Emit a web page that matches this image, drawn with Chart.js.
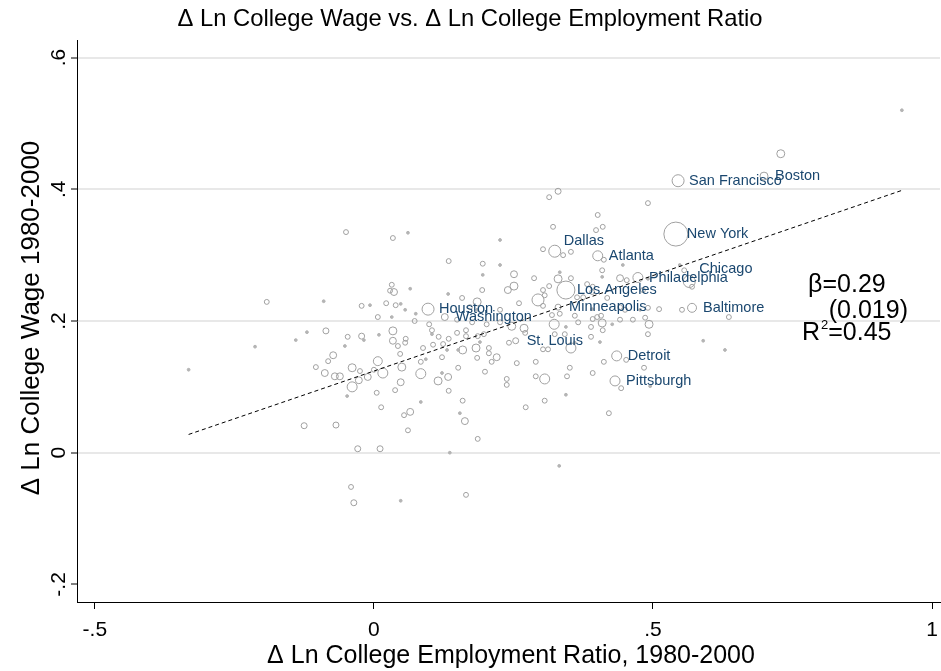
<!DOCTYPE html>
<html>
<head>
<meta charset="utf-8">
<script src="https://cdn.jsdelivr.net/npm/chart.js@4/dist/chart.umd.min.js"></script>
<style>html,body{margin:0;padding:0;background:#fff}canvas{display:block}</style>
</head>
<body>
<canvas id="c" width="941" height="671"></canvas>
<script>
// ---------- data ----------
const titleText = 'Δ Ln College Wage vs. Δ Ln College Employment Ratio';
const xTitle = 'Δ Ln College Employment Ratio, 1980-2000';
const yTitle = 'Δ Ln College Wage 1980-2000';
const xTicks = [-0.5, 0, 0.5, 1];
const xTickLabels = ['-.5', '0', '.5', '1'];
const yTicks = [-0.2, 0, 0.2, 0.4, 0.6];
const yTickLabels = ['-.2', '0', '.2', '.4', '.6'];

const cityNames = ['New York','San Francisco','Boston','Dallas','Atlanta','Chicago','Philadelphia','Los Angeles','Minneapolis','Baltimore','Houston','Washington','St. Louis','Detroit','Pittsburgh'];
const cityX = [0.541,0.545,0.699,0.324,0.401,0.565,0.473,0.344,0.330,0.570,0.097,0.127,0.254,0.435,0.432];
const cityY = [0.332,0.413,0.420,0.306,0.299,0.260,0.266,0.247,0.221,0.220,0.218,0.206,0.170,0.147,0.109];
const cityW = [144,36,16,36,25,36,25,81,9,20,36,12,9,25,25];

const otherX = [-0.332,-0.213,-0.192,-0.140,-0.120,-0.090,-0.086,-0.125,-0.068,-0.050,-0.052,-0.047,-0.073,-0.082,-0.104,-0.088,-0.070,-0.061,-0.039,-0.025,-0.039,-0.027,-0.011,-0.048,-0.022,-0.007,-0.022,-0.018,-0.029,0.011,-0.041,-0.036,0.007,0.000,0.005,0.007,0.009,
0.034,0.061,0.032,0.036,0.029,0.065,0.022,0.039,0.048,0.056,0.075,0.032,0.073,0.099,0.034,0.034,0.043,0.057,0.056,0.047,0.016,0.050,0.084,0.093,0.084,0.048,0.038,0.115,0.133,0.122,0.134,0.084,0.013,0.054,0.065,0.061,0.136,0.048,0.165,0.159,0.154,0.163,0.186,0.134,0.195,0.195,0.133,0.158,0.185,0.194,0.185,0.172,0.104,0.116,0.134,0.124,0.149,0.165,0.186,0.197,0.159,0.183,0.190,0.151,0.131,0.122,0.151,0.149,0.176,0.088,0.106,0.104,0.165,0.199,0.185,0.206,0.206,
0.226,0.226,0.251,0.251,0.240,0.287,0.260,0.226,0.202,0.226,0.247,0.269,0.271,0.242,0.220,0.211,0.256,0.290,0.238,0.238,0.290,0.306,0.272,0.306,0.332,0.314,0.330,0.321,0.303,0.339,0.353,0.294,0.306,0.303,0.314,0.303,0.319,0.333,0.323,0.324,0.303,0.312,0.330,0.333,
0.353,0.382,0.392,0.391,0.364,0.375,0.360,0.391,0.400,0.407,0.392,0.344,0.366,0.389,0.409,0.427,0.410,0.342,0.360,0.389,0.405,0.353,0.452,0.412,0.346,0.351,0.392,0.344,0.443,0.421,0.495,0.484,0.401,0.410,0.398,0.412,0.409,0.446,0.409,0.441,0.453,0.491,0.491,0.418,0.441,0.450,0.441,0.464,0.477,0.491,0.511,0.486,0.493,0.491,0.482,
0.548,0.556,0.570,0.552,0.636,0.590,0.629,0.729,0.946];
const otherY = [0.126,0.161,0.229,0.171,0.183,0.230,0.185,0.041,0.042,0.335,0.162,0.176,0.148,0.139,0.130,0.121,0.116,0.116,0.129,0.124,0.100,0.110,0.115,0.086,0.223,0.224,0.177,0.171,0.006,0.006,-0.052,-0.076,0.139,0.126,0.091,0.206,0.179,
0.326,0.334,0.255,0.244,0.246,0.249,0.227,0.224,0.226,0.217,0.211,0.206,0.200,0.195,0.185,0.170,0.162,0.173,0.167,0.150,0.121,0.130,0.138,0.142,0.120,0.107,0.095,0.109,0.115,0.121,0.094,0.077,0.069,0.057,0.062,0.034,0.000,-0.073,-0.064,0.079,0.060,0.048,0.021,0.291,0.287,0.270,0.241,0.235,0.229,0.247,0.217,0.221,0.186,0.176,0.173,0.165,0.182,0.177,0.177,0.180,0.156,0.159,0.168,0.156,0.156,0.145,0.129,0.202,0.198,0.159,0.164,0.180,0.186,0.123,0.144,0.159,0.151,
0.323,0.285,0.271,0.253,0.247,0.265,0.227,0.217,0.195,0.198,0.192,0.189,0.182,0.167,0.145,0.138,0.136,0.138,0.112,0.103,0.116,0.112,0.069,0.079,-0.020,0.388,0.397,0.343,0.309,0.300,0.305,0.232,0.239,0.223,0.253,0.247,0.209,0.211,0.195,0.180,0.157,0.157,0.264,0.274,
0.265,0.256,0.252,0.244,0.236,0.236,0.208,0.218,0.206,0.208,0.203,0.191,0.198,0.191,0.197,0.195,0.186,0.180,0.167,0.176,0.168,0.159,0.141,0.138,0.116,0.129,0.121,0.088,0.098,0.060,0.101,0.129,0.361,0.343,0.338,0.293,0.277,0.285,0.267,0.265,0.262,0.264,0.379,0.235,0.221,0.217,0.202,0.202,0.217,0.220,0.218,0.205,0.195,0.180,0.247,
0.285,0.277,0.252,0.217,0.206,0.170,0.156,0.454,0.520];
const otherW = [2,2,6,2,2,2,9,9,9,6,2,6,12,6,6,12,12,12,16,6,25,12,12,2,6,2,9,2,9,9,6,9,20,6,6,6,2,
6,2,6,12,6,2,6,6,2,2,2,2,6,6,16,12,6,6,6,6,25,16,6,2,25,12,6,16,12,2,6,2,6,6,12,6,2,2,6,6,2,12,6,6,6,2,2,6,16,6,2,6,6,6,6,6,6,6,6,6,16,16,2,2,2,6,6,6,6,6,6,2,6,6,6,6,6,
2,2,12,16,12,6,6,6,6,6,16,16,6,6,12,6,6,6,6,6,6,25,6,6,2,6,9,6,6,6,6,36,6,6,6,6,6,6,25,6,6,6,16,2,
6,6,6,6,6,6,6,2,6,6,6,2,6,6,16,2,6,6,2,6,2,25,6,6,6,6,6,2,6,6,2,6,6,6,6,6,6,2,2,12,6,2,6,6,6,6,6,6,2,6,6,6,16,6,6,
2,6,6,6,6,2,2,16,2];

const fitIntercept = 0.124;
const fitSlope = 0.29;
// stat annotation: [main text, superscript, rest]
const statLines = [['β=0.29', '', ''], ['(0.019)', '', ''], ['R', '2', '=0.45']];
const statPos = [[0.778, 0.2547], [0.815, 0.2152], [0.767, 0.1818]];

// ---------- build ----------
const toPts = (xs, ys) => xs.map((x, i) => ({x: x, y: ys[i]}));
const allX = otherX.concat(cityX);
const fitX0 = Math.min.apply(null, allX), fitX1 = Math.max.apply(null, allX);
const fitPts = [{x: fitX0, y: fitIntercept + fitSlope * fitX0}, {x: fitX1, y: fitIntercept + fitSlope * fitX1}];

const FONT = '"Liberation Sans", Arial, Helvetica, sans-serif';
const MARK = '#a0a0a0';
const DOT = '#b4b4b4';
const NAVY = '#1a476f';
const labelOffsets = {'Dallas': [9, -10], 'Chicago': [10, -12]};

const textPlugin = {
  id: 'texts',
  afterDraw(chart) {
    const ctx = chart.ctx, xs = chart.scales.x, ys = chart.scales.y;
    ctx.save();
    ctx.fillStyle = '#000';
    ctx.textAlign = 'center';
    ctx.textBaseline = 'middle';
    ctx.font = '23.8px ' + FONT;
    ctx.fillText(titleText, 470, 19);
    ctx.font = '21px ' + FONT;
    yTicks.forEach((v, i) => {
      ctx.save();
      ctx.translate(59, ys.getPixelForValue(v));
      ctx.rotate(-Math.PI / 2);
      ctx.fillText(yTickLabels[i], 0, 0);
      ctx.restore();
    });
    ctx.save();
    ctx.font = '26px ' + FONT;
    ctx.translate(32, 318);
    ctx.rotate(-Math.PI / 2);
    ctx.fillText(yTitle, 0, 0);
    ctx.restore();
    ctx.font = '25px ' + FONT;
    ctx.fillText(xTitle, 511, 656);
    ctx.textAlign = 'left';
    statLines.forEach((parts, i) => {
      let px = xs.getPixelForValue(statPos[i][0]);
      const py = ys.getPixelForValue(statPos[i][1]);
      ctx.font = '25px ' + FONT;
      ctx.fillText(parts[0], px, py);
      px += ctx.measureText(parts[0]).width;
      if (parts[1]) {
        ctx.font = '13px ' + FONT;
        ctx.fillText(parts[1], px + 1, py - 8);
        px += ctx.measureText(parts[1]).width + 1;
      }
      if (parts[2]) {
        ctx.font = '25px ' + FONT;
        ctx.fillText(parts[2], px, py);
      }
    });
    ctx.font = '14.5px ' + FONT;
    ctx.fillStyle = NAVY;
    const meta = chart.getDatasetMeta(2);
    meta.data.forEach((el, i) => {
      const o = labelOffsets[cityNames[i]] || [11, 0];
      ctx.fillText(cityNames[i], el.x + o[0], el.y + o[1]);
    });
    ctx.restore();
  }
};

const radius = (arr) => (c) => Math.sqrt(arr[c.dataIndex]);
const fill = (arr) => (c) => arr[c.dataIndex] <= 2 ? DOT : 'rgba(0,0,0,0)';
const stroke = (arr) => (c) => arr[c.dataIndex] <= 2 ? DOT : MARK;

new Chart(document.getElementById('c'), {
  type: 'scatter',
  data: {
    datasets: [
      {type: 'line', data: fitPts, borderColor: '#000', borderWidth: 1, borderDash: [4, 3], pointRadius: 0, fill: false},
      {data: toPts(otherX, otherY), pointRadius: radius(otherW), pointBackgroundColor: fill(otherW), pointBorderColor: stroke(otherW), pointBorderWidth: 1},
      {data: toPts(cityX, cityY), pointRadius: radius(cityW), pointBackgroundColor: 'rgba(0,0,0,0)', pointBorderColor: MARK, pointBorderWidth: 1}
    ]
  },
  options: {
    responsive: false,
    animation: false,
    devicePixelRatio: 1,
    events: [],
    layout: {autoPadding: false, padding: {top: 40, right: 1, left: 0, bottom: 0}},
    plugins: {legend: {display: false}, tooltip: {enabled: false}},
    scales: {
      x: {
        type: 'linear', min: -0.532, max: 1.0143,
        afterBuildTicks: (s) => { s.ticks = xTicks.map(v => ({value: v})); },
        afterFit: (s) => { s.height = 69; s.paddingLeft = 0; s.paddingRight = 0; },
        ticks: {callback: (v, i) => xTickLabels[i], color: '#000', font: {family: FONT, size: 21}, padding: 9, maxRotation: 0, autoSkip: false},
        grid: {drawOnChartArea: false, drawTicks: true, tickLength: 7, color: '#000', tickColor: '#000', tickWidth: 1},
        border: {display: true, color: '#000', width: 1}
      },
      y: {
        type: 'linear', min: -0.2267, max: 0.6267,
        afterBuildTicks: (s) => { s.ticks = yTicks.map(v => ({value: v})); },
        afterFit: (s) => { s.width = 77; s.paddingTop = 0; s.paddingBottom = 0; },
        ticks: {display: false},
        grid: {
          drawOnChartArea: true, drawTicks: true, tickLength: 6,
          color: (c) => (c.tick && c.tick.value === -0.2) ? 'rgba(0,0,0,0)' : '#e8e8e8',
          lineWidth: 2, tickColor: '#000', tickWidth: 1
        },
        border: {display: true, color: '#000', width: 1}
      }
    }
  },
  plugins: [textPlugin]
});
</script>
</body>
</html>
